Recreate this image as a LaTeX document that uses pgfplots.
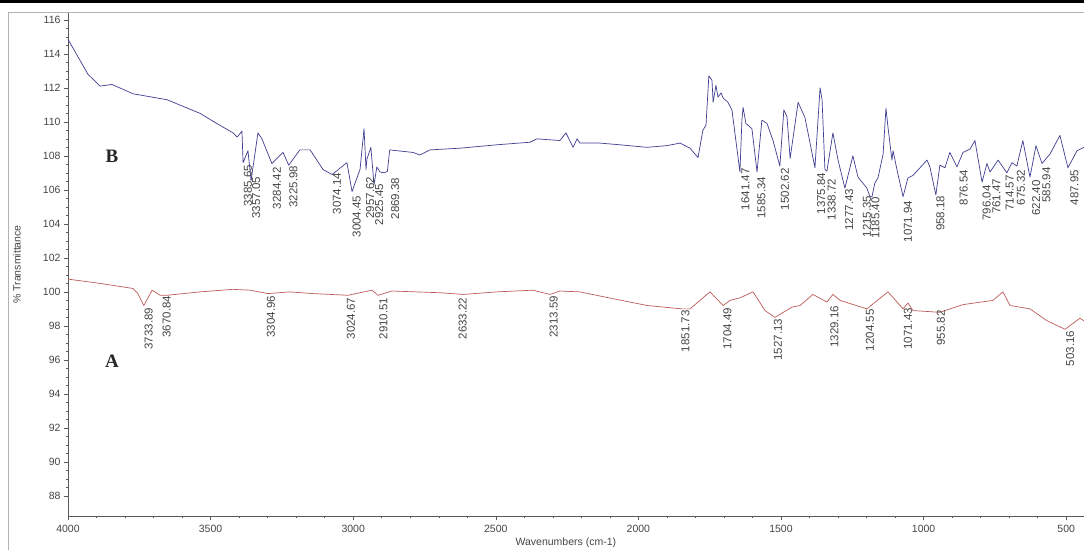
\documentclass[border=0pt]{standalone}
\usepackage{fontspec}
\setmainfont{Liberation Sans}
\newfontfamily\serifb{Liberation Serif}
\usepackage{pgfplots}
\pgfplotsset{compat=1.18}
\usepackage{pgfplotstable}
\definecolor{bcol}{RGB}{62,62,145}
\definecolor{acol}{RGB}{188,92,88}
\definecolor{txt}{RGB}{70,70,70}

\pgfplotstableread{
w y
4000 114.85
3930 112.8
3888 112.1
3846 112.2
3772 111.65
3653 111.3
3537 110.5
3478 109.9
3421 109.35
3407 109.1
3390 109.45
3386 107.6
3369 108.3
3358 106.55
3334 109.35
3320 109.0
3285 107.55
3246 108.2
3226 107.45
3187 108.35
3151 108.35
3106 107.2
3074 106.9
3022 107.6
3004 105.9
2976 107.2
2962 109.6
2955 107.2
2952 107.8
2938 108.5
2927 106.3
2917 107.35
2906 107.05
2890 107.0
2880 107.1
2872 108.35
2790 108.2
2766 108.05
2731 108.35
2626 108.45
2496 108.65
2380 108.8
2356 109.0
2275 108.9
2254 109.35
2229 108.5
2215 109.0
2205 108.75
2135 108.75
2065 108.65
1970 108.5
1900 108.6
1854 108.75
1819 108.45
1791 107.9
1774 109.5
1763 109.8
1753 112.7
1742 112.45
1738 111.15
1728 112.15
1721 111.45
1710 111.7
1703 111.4
1686 111.15
1672 110.7
1644 107.05
1637 110.1
1633 110.85
1623 109.9
1602 109.6
1584 107.05
1567 110.1
1549 109.9
1528 108.9
1504 107.4
1490 110.7
1479 110.3
1468 107.85
1440 111.15
1416 110.25
1381 107.3
1363 112.0
1356 111.3
1346 107.2
1339 107.1
1318 109.35
1300 107.75
1276 106.1
1248 108.0
1230 106.75
1213 106.4
1199 106.1
1188 105.6
1181 105.6
1171 106.4
1160 106.7
1142 108.1
1132 110.8
1125 109.7
1111 107.75
1107 108.3
1093 107.15
1072 105.6
1055 106.7
1037 106.85
988 107.75
978 107.35
957 105.7
943 107.45
925 107.3
908 108.2
883 107.35
862 108.2
837 108.4
820 108.9
795 106.45
778 107.55
767 107.05
739 107.75
708 107.0
690 107.6
673 107.4
652 108.9
627 106.75
606 108.6
585 107.55
557 108.1
522 109.2
494 107.3
462 108.3
437.6 108.5
}\dataB

\pgfplotstableread{
w y
4000 100.75
3888 100.5
3772 100.2
3755 99.9
3734 99.2
3705 100.1
3677 99.8
3653 99.8
3537 100.0
3421 100.15
3362 100.1
3299 99.9
3222 100.0
3141 99.9
3018 99.8
2934 100.1
2913 99.8
2864 100.05
2696 99.95
2615 99.85
2496 100.0
2370 100.1
2310 99.85
2275 100.05
2205 100.0
2089 99.6
1970 99.2
1847 99.0
1819 99.0
1749 100.0
1703 99.2
1679 99.5
1644 99.65
1598 100.0
1556 98.9
1521 98.5
1462 99.1
1433 99.2
1388 99.85
1339 99.4
1318 99.85
1293 99.5
1199 99.0
1125 100.0
1072 99.0
1055 99.35
1037 98.9
943 98.8
862 99.25
757 99.5
722 100.0
697 99.2
627 99.0
567 98.3
504 97.8
452 98.45
437.6 98.3
}\dataA

\begin{document}
\begin{tikzpicture}[x=1pt,y=1pt]
\useasboundingbox (0,0) rectangle (1084,550);
\fill[white] (0,0) rectangle (1084,550);
\draw[black, line width=3pt] (0,548.5) -- (1084,548.5);
\draw[gray!60, line width=1pt] (8,0) -- (8,537.5) -- (1084,537.5);
\begin{axis}[
  at={(68pt,34pt)}, anchor=south west,
  scale only axis, width=1016pt, height=503pt,
  x dir=reverse,
  xmin=437.6, xmax=4000, ymin=86.82, ymax=116.4,
  axis x line*=bottom, axis y line*=left,
  axis line style={-, gray!70!black, line width=0.6pt},
  xtick={500,1000,...,4000},
  ytick={88,90,...,116},
  minor x tick num=4, minor y tick num=3,
  tick align=outside,
  major tick length=4pt, minor tick length=2pt,
  tick style={gray!70!black, line width=0.5pt},
  /pgf/number format/assume math mode=true,
  /pgf/number format/1000 sep={},
  ticklabel style={font=\fontsize{10.5}{12}\selectfont, text=txt},
  xticklabel style={yshift=-2pt},
  xlabel={Wavenumbers (cm-1)},
  ylabel={\% Transmittance},
  every axis x label/.style={at={([yshift=-27pt]rel axis cs:0.49,0)}, anchor=center, font=\fontsize{10.5}{12}\selectfont, text=txt},
  every axis y label/.style={at={([xshift=-51pt]rel axis cs:0,0.5)}, anchor=center, rotate=90, font=\fontsize{10.5}{12}\selectfont, text=txt},
  clip mode=individual,
]
\addplot[color=bcol, line width=0.7pt, line join=round] table {\dataB};
\addplot[color=acol, line width=0.7pt, line join=round] table {\dataA};

\addplot[draw=none, mark=none, nodes near coords, point meta=explicit symbolic,
  every node near coord/.style={rotate=90, anchor=north east, inner sep=0.5pt, font=\fontsize{11.5}{12}\selectfont, text=txt}]
  table[meta=l] {
w y l
3385.65 107.5 3385.65
3357.05 106.8 3357.05
3284.42 107.35 3284.42
3225.98 107.45 3225.98
3074.14 107.05 3074.14
3004.45 105.7 3004.45
2957.62 106.8 2957.62
2925.45 106.4 2925.45
2869.38 106.75 2869.38
1641.47 107.3 1641.47
1585.34 106.8 1585.34
1502.62 107.3 1502.62
1375.84 107.05 1375.84
1338.72 106.7 1338.72
1277.43 106.1 1277.43
1215.35 105.7 1215.35
1185.40 105.6 1185.40
1071.94 105.4 1071.94
958.18 105.7 958.18
876.54 107.2 876.54
796.04 106.3 796.04
761.47 106.7 761.47
714.57 106.9 714.57
675.32 107.2 675.32
622.40 106.6 622.40
585.94 107.35 585.94
487.95 107.2 487.95
};

\addplot[draw=none, mark=none, nodes near coords, point meta=explicit symbolic,
  every node near coord/.style={rotate=90, anchor=north east, inner sep=0.5pt, font=\fontsize{11.5}{12}\selectfont, text=txt}]
  table[meta=l] {
w y l
3733.89 99.1 3733.89
3670.84 99.8 3670.84
3304.96 99.8 3304.96
3024.67 99.7 3024.67
2910.51 99.7 2910.51
2633.22 99.7 2633.22
2313.59 99.8 2313.59
1851.73 98.95 1851.73
1704.49 99.1 1704.49
1527.13 98.45 1527.13
1329.16 99.2 1329.16
1204.55 99.0 1204.55
1071.43 99.1 1071.43
955.82 98.95 955.82
503.16 97.75 503.16
};

\node[font=\serifb\bfseries\fontsize{19}{20}\selectfont, text=black!85] at (axis cs:3846,107.95) {B};
\node[font=\serifb\bfseries\fontsize{19}{20}\selectfont, text=black!85] at (axis cs:3846,95.9) {A};
\end{axis}
\end{tikzpicture}
\end{document}
